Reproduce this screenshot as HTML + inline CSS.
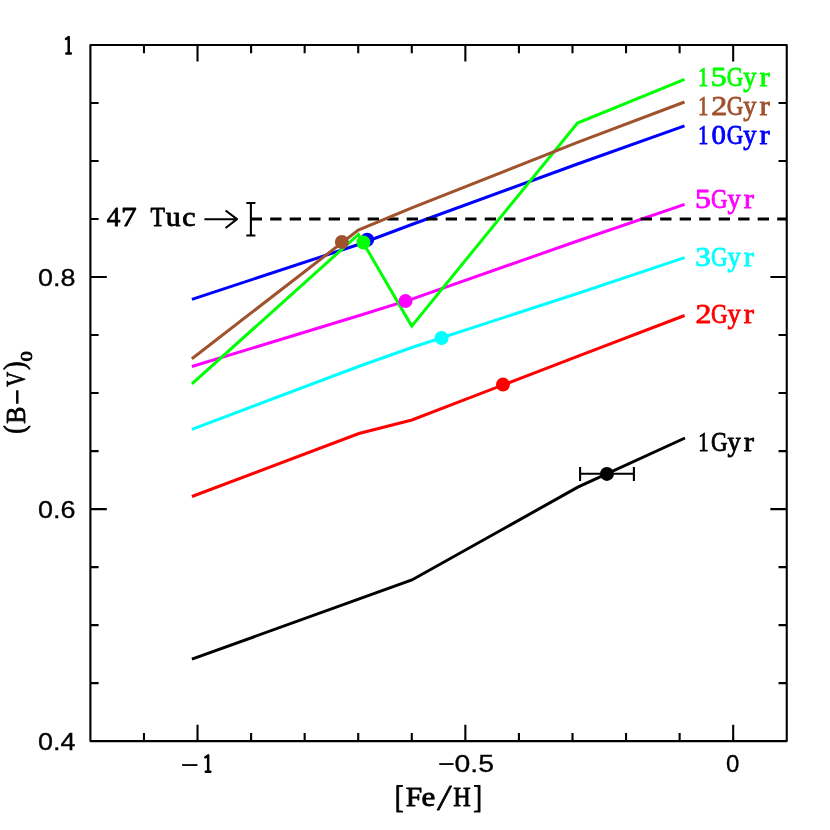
<!DOCTYPE html>
<html>
<head>
<meta charset="utf-8">
<title>(B-V)0 vs [Fe/H]</title>
<style>
html,body{margin:0;padding:0;background:#fff;}
body{width:830px;height:830px;overflow:hidden;font-family:"Liberation Sans",sans-serif;}
svg{display:block;will-change:transform;}
.tk{font-family:"Liberation Sans",sans-serif;font-size:24px;fill:#000;stroke:#000;stroke-width:0.3px;}
.rm{font-family:"Liberation Serif",serif;font-size:26.6px;stroke-width:0.8px;stroke-linejoin:round;}
.ln{fill:none;stroke-width:3;stroke-linejoin:miter;stroke-linecap:butt;}
.ax{stroke:#000;stroke-width:2.1;fill:none;stroke-linecap:butt;stroke-linejoin:round;}
</style>
</head>
<body>
<svg width="830" height="830" viewBox="0 0 830 830">
<rect x="0" y="0" width="830" height="830" fill="#fff"/>

<!-- isochrone colour curves (draw order matters) -->
<polyline class="ln" stroke="#000" points="191.9,659.1 411.9,580 577.8,487.2 685,438"/>
<polyline class="ln" stroke="#f00" points="191.9,496.5 358.9,433.5 411.9,420 577.5,356.3 684.6,315.5"/>
<polyline class="ln" stroke="#0ff" points="191.9,429.4 358.5,366.5 411.8,347.5 577.5,293.5 684.6,257.7"/>
<polyline class="ln" stroke="#f0f" points="191.9,366.5 358.5,315.8 411.8,299.2 577.5,241 684.6,204.3"/>
<polyline class="ln" stroke="#00f" points="191.9,299.4 358.5,244.5 411.8,224.5 577.5,164 684.5,125.8"/>
<!-- 47 Tuc dashed reference -->
<line x1="250.7" y1="219" x2="786" y2="219" stroke="#000" stroke-width="3" stroke-dasharray="11.3 8.2"/>
<polyline class="ln" stroke="#0f0" points="191.9,383.9 358.4,234.5 411.7,326.1 577.5,123.1 684.5,79.3"/>
<polyline class="ln" stroke="#a0522d" points="191.9,358.8 358.3,230.1 411.8,207.9 577.5,142.4 684.5,102"/>

<!-- error bars and arrow -->
<g class="ax">
<path d="M580.1,473.8H633.9M580.1,466.9V481M633.9,466.9V481"/>
<path d="M250.9,203V235.5M246.3,203H255.4M246.3,235.5H255.4"/>
<path d="M204.4,219.2H236.6M225.6,210.5L237,219.2L225.6,228"/>
</g>

<!-- points -->
<circle cx="606.9" cy="473.9" r="7" fill="#000"/>
<circle cx="503" cy="384.6" r="7" fill="#f00"/>
<circle cx="441.6" cy="338" r="7" fill="#0ff"/>
<circle cx="405.5" cy="301.1" r="7" fill="#f0f"/>
<circle cx="367.2" cy="239.8" r="7" fill="#00f"/>
<circle cx="363.4" cy="242.5" r="7" fill="#0f0"/>
<circle cx="341.9" cy="242" r="7" fill="#a0522d"/>

<!-- frame and ticks -->
<rect class="ax" x="90.4" y="45.05" width="696.35" height="696.05"/>
<path class="ax" d="M143.97,741.1v-8.2 M143.97,45.05v8.2 M197.53,741.1v-16.4 M197.53,45.05v16.4 M251.10,741.1v-8.2 M251.10,45.05v8.2 M304.66,741.1v-8.2 M304.66,45.05v8.2 M358.23,741.1v-8.2 M358.23,45.05v8.2 M411.79,741.1v-8.2 M411.79,45.05v8.2 M465.36,741.1v-16.4 M465.36,45.05v16.4 M518.92,741.1v-8.2 M518.92,45.05v8.2 M572.49,741.1v-8.2 M572.49,45.05v8.2 M626.05,741.1v-8.2 M626.05,45.05v8.2 M679.62,741.1v-8.2 M679.62,45.05v8.2 M733.18,741.1v-16.4 M733.18,45.05v16.4 M90.4,683.10h8.2 M786.75,683.10h-8.2 M90.4,625.09h8.2 M786.75,625.09h-8.2 M90.4,567.09h8.2 M786.75,567.09h-8.2 M90.4,509.08h16.4 M786.75,509.08h-16.4 M90.4,451.08h8.2 M786.75,451.08h-8.2 M90.4,393.07h8.2 M786.75,393.07h-8.2 M90.4,335.07h8.2 M786.75,335.07h-8.2 M90.4,277.07h16.4 M786.75,277.07h-16.4 M90.4,219.06h8.2 M786.75,219.06h-8.2 M90.4,161.06h8.2 M786.75,161.06h-8.2 M90.4,103.05h8.2 M786.75,103.05h-8.2"/>

<!-- tick labels -->
<g class="tk" text-anchor="end">
<text x="75.6" y="285.8" textLength="37.5" lengthAdjust="spacingAndGlyphs">0.8</text>
<text x="75.6" y="517.8" textLength="37.5" lengthAdjust="spacingAndGlyphs">0.6</text>
<text x="75.6" y="749.8" textLength="37.5" lengthAdjust="spacingAndGlyphs">0.4</text>
</g>
<g class="tk" text-anchor="middle">
<text x="466" y="772.4" textLength="56" lengthAdjust="spacingAndGlyphs">−0.5</text>
<text x="732.8" y="772.4">0</text>
<text x="189.6" y="772.6" textLength="17.8" lengthAdjust="spacingAndGlyphs">−</text>
</g>
<g fill="none" stroke="#000" stroke-width="2.5" stroke-linecap="round" stroke-linejoin="round">
<path aria-label="1" d="M66,38.9L68.7,37V53.3M66.3,53.4H70.9"/>
<path aria-label="1" transform="translate(139.45,718.4)" d="M66,38.9L68.7,37V53.3M66.3,53.4H70.9"/>
</g>

<!-- roman labels -->
<g class="rm">
<text fill="#0f0" stroke="#0f0"><tspan x="698.12" y="86.40" textLength="10.37" lengthAdjust="spacingAndGlyphs">1</tspan><tspan x="710.75" y="86.40" textLength="15.89" lengthAdjust="spacingAndGlyphs">5</tspan><tspan x="726.86" y="86.40" textLength="16.56" lengthAdjust="spacingAndGlyphs">G</tspan><tspan x="743.18" y="86.40" textLength="13.23" lengthAdjust="spacingAndGlyphs">y</tspan><tspan x="759.53" y="86.40" textLength="10.19" lengthAdjust="spacingAndGlyphs">r</tspan></text>
<text fill="#a0522d" stroke="#a0522d"><tspan x="698.12" y="115.40" textLength="10.37" lengthAdjust="spacingAndGlyphs">1</tspan><tspan x="711.20" y="115.40" textLength="15.96" lengthAdjust="spacingAndGlyphs">2</tspan><tspan x="726.86" y="115.40" textLength="16.56" lengthAdjust="spacingAndGlyphs">G</tspan><tspan x="743.18" y="115.40" textLength="13.23" lengthAdjust="spacingAndGlyphs">y</tspan><tspan x="759.53" y="115.40" textLength="10.19" lengthAdjust="spacingAndGlyphs">r</tspan></text>
<text fill="#00f" stroke="#00f"><tspan x="698.12" y="144.30" textLength="10.37" lengthAdjust="spacingAndGlyphs">1</tspan><tspan x="711.50" y="144.30" textLength="14.39" lengthAdjust="spacingAndGlyphs">0</tspan><tspan x="726.86" y="144.30" textLength="16.56" lengthAdjust="spacingAndGlyphs">G</tspan><tspan x="743.18" y="144.30" textLength="13.23" lengthAdjust="spacingAndGlyphs">y</tspan><tspan x="759.53" y="144.30" textLength="10.19" lengthAdjust="spacingAndGlyphs">r</tspan></text>
<text fill="#f0f" stroke="#f0f"><tspan x="694.95" y="207.70" textLength="15.89" lengthAdjust="spacingAndGlyphs">5</tspan><tspan x="711.06" y="207.70" textLength="16.56" lengthAdjust="spacingAndGlyphs">G</tspan><tspan x="727.38" y="207.70" textLength="13.23" lengthAdjust="spacingAndGlyphs">y</tspan><tspan x="743.73" y="207.70" textLength="10.19" lengthAdjust="spacingAndGlyphs">r</tspan></text>
<text fill="#0ff" stroke="#0ff"><tspan x="695.32" y="265.50" textLength="15.49" lengthAdjust="spacingAndGlyphs">3</tspan><tspan x="711.06" y="265.50" textLength="16.56" lengthAdjust="spacingAndGlyphs">G</tspan><tspan x="727.38" y="265.50" textLength="13.23" lengthAdjust="spacingAndGlyphs">y</tspan><tspan x="743.73" y="265.50" textLength="10.19" lengthAdjust="spacingAndGlyphs">r</tspan></text>
<text fill="#f00" stroke="#f00"><tspan x="695.40" y="323.40" textLength="15.96" lengthAdjust="spacingAndGlyphs">2</tspan><tspan x="711.06" y="323.40" textLength="16.56" lengthAdjust="spacingAndGlyphs">G</tspan><tspan x="727.38" y="323.40" textLength="13.23" lengthAdjust="spacingAndGlyphs">y</tspan><tspan x="743.73" y="323.40" textLength="10.19" lengthAdjust="spacingAndGlyphs">r</tspan></text>
<text fill="#000" stroke="#000"><tspan x="698.32" y="451.30" textLength="10.37" lengthAdjust="spacingAndGlyphs">1</tspan><tspan x="711.06" y="451.30" textLength="16.56" lengthAdjust="spacingAndGlyphs">G</tspan><tspan x="727.38" y="451.30" textLength="13.23" lengthAdjust="spacingAndGlyphs">y</tspan><tspan x="743.73" y="451.30" textLength="10.19" lengthAdjust="spacingAndGlyphs">r</tspan></text>
<text fill="#000" stroke="#000"><tspan x="106.87" y="225.80" textLength="13.66" lengthAdjust="spacingAndGlyphs">4</tspan><tspan x="121.03" y="225.80" textLength="15.67" lengthAdjust="spacingAndGlyphs">7</tspan><tspan x="150.57" y="225.80" textLength="14.52" lengthAdjust="spacingAndGlyphs">T</tspan><tspan x="165.71" y="225.80" textLength="14.90" lengthAdjust="spacingAndGlyphs">u</tspan><tspan x="182.16" y="225.80" textLength="13.26" lengthAdjust="spacingAndGlyphs">c</tspan></text>
<text fill="#000" stroke="#000"><tspan x="394.73" y="807.80" font-size="30.5" textLength="8.82" lengthAdjust="spacingAndGlyphs">[</tspan><tspan x="405.85" y="806.40" textLength="16.42" lengthAdjust="spacingAndGlyphs">F</tspan><tspan x="421.49" y="806.40" textLength="13.79" lengthAdjust="spacingAndGlyphs">e</tspan><tspan x="438.7" y="810.1" font-size="36.5" font-style="italic">/</tspan><tspan x="453.30" y="806.40" textLength="17.51" lengthAdjust="spacingAndGlyphs">H</tspan><tspan x="473.14" y="807.80" font-size="30.5" textLength="8.82" lengthAdjust="spacingAndGlyphs">]</tspan></text>
<text transform="translate(24.5,434) rotate(-90)" fill="#000" stroke="#000"><tspan x="0.17" y="-0.50" font-size="29.3" textLength="8.56" lengthAdjust="spacingAndGlyphs">(</tspan><tspan x="10.26" y="0.00" textLength="17.20" lengthAdjust="spacingAndGlyphs">B</tspan><tspan stroke-width="1.1" x="29.36" y="1.20" textLength="15.15" lengthAdjust="spacingAndGlyphs">−</tspan><tspan x="47.16" y="0.00" textLength="14.98" lengthAdjust="spacingAndGlyphs">V</tspan><tspan x="63.97" y="-0.50" font-size="29.3" textLength="8.56" lengthAdjust="spacingAndGlyphs">)</tspan><tspan x="72.6" y="7.7" font-size="17" textLength="10.3" lengthAdjust="spacingAndGlyphs">0</tspan></text>
</g>
</svg>
</body>
</html>
